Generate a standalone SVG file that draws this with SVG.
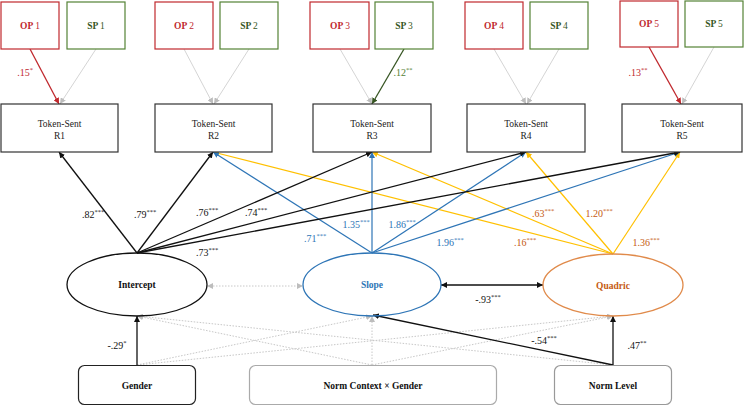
<svg xmlns="http://www.w3.org/2000/svg" width="745" height="406" viewBox="0 0 745 406" font-family="'Liberation Serif', 'DejaVu Serif', serif">
<style>
text{font-family:'Liberation Serif','DejaVu Serif',serif;text-anchor:middle}
.lab{font-size:9.5px;font-weight:bold}
.tok{font-size:9.5px;fill:#222}
.num{font-size:10px}
.sup{font-size:6.5px}
.op{fill:#fff;stroke:#c0282d;stroke-width:1.2}
.sp{fill:#fff;stroke:#548235;stroke-width:1.2}
.ts{fill:#fff;stroke:#333;stroke-width:1.2}
.k{stroke:#111;stroke-width:1.3;fill:none}
.b{stroke:#2e75b6;stroke-width:1.2;fill:none}
.y{stroke:#ffc000;stroke-width:1.2;fill:none}
.g{stroke:#cfcfcf;stroke-width:0.9;fill:none}
.gd{stroke:#c8c8c8;stroke-width:1;stroke-dasharray:1.5 1.5;fill:none}
.r{stroke:#c0282d;stroke-width:1.3;fill:none}
.gr{stroke:#375623;stroke-width:1.3;fill:none}
</style>
<defs>
<marker id="ak" markerWidth="6" markerHeight="6" refX="6" refY="3" orient="auto-start-reverse" markerUnits="userSpaceOnUse"><path d="M0,0L6,3L0,6z" fill="#111"/></marker>
<marker id="ab" markerWidth="6" markerHeight="6" refX="6" refY="3" orient="auto" markerUnits="userSpaceOnUse"><path d="M0,0L6,3L0,6z" fill="#2e75b6"/></marker>
<marker id="ay" markerWidth="6" markerHeight="6" refX="6" refY="3" orient="auto" markerUnits="userSpaceOnUse"><path d="M0,0L6,3L0,6z" fill="#ffc000"/></marker>
<marker id="ag" markerWidth="6" markerHeight="6" refX="6" refY="3" orient="auto-start-reverse" markerUnits="userSpaceOnUse"><path d="M0,0L6,3L0,6z" fill="#bdbdbd"/></marker>
<marker id="ar" markerWidth="6" markerHeight="6" refX="6" refY="3" orient="auto" markerUnits="userSpaceOnUse"><path d="M0,0L6,3L0,6z" fill="#c0282d"/></marker>
<marker id="agr" markerWidth="6" markerHeight="6" refX="6" refY="3" orient="auto" markerUnits="userSpaceOnUse"><path d="M0,0L6,3L0,6z" fill="#375623"/></marker>
</defs>
<rect width="745" height="406" fill="#fff"/>

<g id="connectors">
<line class="r" x1="30" y1="49" x2="59" y2="104" marker-end="url(#ar)"/>
<line class="g" x1="96" y1="49" x2="60" y2="104" marker-end="url(#ag)"/>
<line class="g" x1="184" y1="49" x2="213" y2="104" marker-end="url(#ag)"/>
<line class="g" x1="249" y1="49" x2="214" y2="104" marker-end="url(#ag)"/>
<line class="g" x1="340" y1="49" x2="372" y2="104" marker-end="url(#ag)"/>
<line class="gr" x1="404" y1="49" x2="372" y2="104" marker-end="url(#agr)"/>
<line class="g" x1="494" y1="49" x2="526" y2="104" marker-end="url(#ag)"/>
<line class="g" x1="559" y1="49" x2="527" y2="104" marker-end="url(#ag)"/>
<line class="r" x1="649" y1="47" x2="681" y2="104" marker-end="url(#ar)"/>
<line class="g" x1="714" y1="47" x2="682" y2="104" marker-end="url(#ag)"/>

<line class="y" x1="613" y1="254" x2="213" y2="152" marker-end="url(#ay)"/>
<line class="y" x1="613" y1="254" x2="372" y2="152" marker-end="url(#ay)"/>
<line class="y" x1="613" y1="254" x2="526" y2="152" marker-end="url(#ay)"/>
<line class="y" x1="613" y1="254" x2="680" y2="152" marker-end="url(#ay)"/>

<line class="b" x1="372" y1="253" x2="213" y2="152" marker-end="url(#ab)"/>
<line class="b" x1="372" y1="253" x2="372" y2="152" marker-end="url(#ab)"/>
<line class="b" x1="372" y1="253" x2="526" y2="152" marker-end="url(#ab)"/>
<line class="b" x1="372" y1="253" x2="680" y2="152" marker-end="url(#ab)"/>

<line class="k" x1="137" y1="253" x2="59" y2="152" marker-end="url(#ak)"/>
<line class="k" x1="137" y1="253" x2="213" y2="152" marker-end="url(#ak)"/>
<line class="k" x1="137" y1="253" x2="372" y2="152" marker-end="url(#ak)"/>
<line class="k" x1="137" y1="253" x2="526" y2="152" marker-end="url(#ak)"/>
<line class="k" x1="137" y1="253" x2="680" y2="152" marker-end="url(#ak)"/>

<line class="gd" x1="207" y1="286" x2="303" y2="286" marker-start="url(#ag)" marker-end="url(#ag)"/>
<line class="k" x1="441" y1="285" x2="543" y2="285" marker-start="url(#ak)" marker-end="url(#ak)"/>

<line class="gd" x1="137" y1="365" x2="372" y2="316" marker-end="url(#ag)"/>
<line class="gd" x1="137" y1="365" x2="613" y2="316" marker-end="url(#ag)"/>
<line class="gd" x1="372" y1="365" x2="137" y2="316" marker-end="url(#ag)"/>
<line class="gd" x1="372" y1="365" x2="372" y2="316" marker-end="url(#ag)"/>
<line class="gd" x1="372" y1="365" x2="613" y2="316" marker-end="url(#ag)"/>
<line class="gd" x1="613" y1="365" x2="137" y2="316" marker-end="url(#ag)"/>
<line class="k" x1="137" y1="365" x2="137" y2="316" marker-end="url(#ak)"/>
<line class="k" x1="613" y1="365" x2="613" y2="316" marker-end="url(#ak)"/>
<line class="k" x1="613" y1="365" x2="373" y2="315" marker-end="url(#ak)"/>
</g>

<g id="labels">
<text class="num" x="25" y="76" fill="#c0282d">.15<tspan class="sup" dy="-4">*</tspan></text>
<text class="num" x="403" y="76" fill="#548235">.12<tspan class="sup" dy="-4">**</tspan></text>
<text class="num" x="638" y="76" fill="#c0282d">.13<tspan class="sup" dy="-4">**</tspan></text>

<text class="num" x="93" y="218" fill="#111">.82<tspan class="sup" dy="-4">***</tspan></text>
<text class="num" x="145" y="218" fill="#111">.79<tspan class="sup" dy="-4">***</tspan></text>
<text class="num" x="207" y="216" fill="#111">.76<tspan class="sup" dy="-4">***</tspan></text>
<text class="num" x="256" y="216" fill="#111">.74<tspan class="sup" dy="-4">***</tspan></text>
<text class="num" x="207" y="256" fill="#111">.73<tspan class="sup" dy="-4">***</tspan></text>

<text class="num" x="356" y="228" fill="#2e75b6">1.35<tspan class="sup" dy="-4">***</tspan></text>
<text class="num" x="402" y="228" fill="#2e75b6">1.86<tspan class="sup" dy="-4">***</tspan></text>
<text class="num" x="315" y="242" fill="#2e75b6">.71<tspan class="sup" dy="-4">***</tspan></text>
<text class="num" x="450" y="246" fill="#2e75b6">1.96<tspan class="sup" dy="-4">***</tspan></text>

<text class="num" x="543" y="217" fill="#c55a11">.63<tspan class="sup" dy="-4">***</tspan></text>
<text class="num" x="599" y="217" fill="#c55a11">1.20<tspan class="sup" dy="-4">***</tspan></text>
<text class="num" x="525" y="246" fill="#c55a11">.16<tspan class="sup" dy="-4">***</tspan></text>
<text class="num" x="646" y="246" fill="#c55a11">1.36<tspan class="sup" dy="-4">***</tspan></text>

<text class="num" x="488" y="303" fill="#111">-.93<tspan class="sup" dy="-4">***</tspan></text>
<text class="num" x="117" y="349" fill="#111">-.29<tspan class="sup" dy="-4">*</tspan></text>
<text class="num" x="544" y="344" fill="#111">-.54<tspan class="sup" dy="-4">***</tspan></text>
<text class="num" x="637" y="349" fill="#111">.47<tspan class="sup" dy="-4">**</tspan></text>
</g>

<g id="op1"><rect class="op" x="1" y="2" width="58" height="47"/><text class="lab" x="30" y="29" fill="#c0282d">OP <tspan font-weight="normal">1</tspan></text></g>
<g id="sp1"><rect class="sp" x="67" y="2" width="58" height="47"/><text class="lab" x="96" y="29" fill="#375623">SP <tspan font-weight="normal">1</tspan></text></g>
<g id="op2"><rect class="op" x="155" y="2" width="58" height="47"/><text class="lab" x="184" y="29" fill="#c0282d">OP <tspan font-weight="normal">2</tspan></text></g>
<g id="sp2"><rect class="sp" x="220" y="2" width="58" height="47"/><text class="lab" x="249" y="29" fill="#375623">SP <tspan font-weight="normal">2</tspan></text></g>
<g id="op3"><rect class="op" x="310" y="2" width="59" height="47"/><text class="lab" x="340" y="29" fill="#c0282d">OP <tspan font-weight="normal">3</tspan></text></g>
<g id="sp3"><rect class="sp" x="375" y="2" width="58" height="47"/><text class="lab" x="404" y="29" fill="#375623">SP <tspan font-weight="normal">3</tspan></text></g>
<g id="op4"><rect class="op" x="465" y="2" width="58" height="47"/><text class="lab" x="494" y="29" fill="#c0282d">OP <tspan font-weight="normal">4</tspan></text></g>
<g id="sp4"><rect class="sp" x="530" y="2" width="58" height="47"/><text class="lab" x="559" y="29" fill="#375623">SP <tspan font-weight="normal">4</tspan></text></g>
<g id="op5"><rect class="op" x="620" y="1" width="58" height="46"/><text class="lab" x="649" y="27" fill="#c0282d">OP <tspan font-weight="normal">5</tspan></text></g>
<g id="sp5"><rect class="sp" x="685" y="1" width="58" height="46"/><text class="lab" x="714" y="27" fill="#375623">SP <tspan font-weight="normal">5</tspan></text></g>

<g id="r1"><rect class="ts" x="1" y="104" width="117" height="48"/><text class="tok" x="59.5" y="127">Token-Sent</text><text class="tok" x="59.5" y="139">R1</text></g>
<g id="r2"><rect class="ts" x="155" y="104" width="117" height="48"/><text class="tok" x="213.5" y="127">Token-Sent</text><text class="tok" x="213.5" y="139">R2</text></g>
<g id="r3"><rect class="ts" x="313" y="104" width="118" height="48"/><text class="tok" x="372" y="127">Token-Sent</text><text class="tok" x="372" y="139">R3</text></g>
<g id="r4"><rect class="ts" x="467" y="104" width="118" height="48"/><text class="tok" x="526" y="127">Token-Sent</text><text class="tok" x="526" y="139">R4</text></g>
<g id="r5"><rect class="ts" x="622" y="104" width="120" height="48"/><text class="tok" x="682" y="127">Token-Sent</text><text class="tok" x="682" y="139">R5</text></g>

<g id="intercept"><ellipse cx="137" cy="284.5" rx="70" ry="31.5" fill="none" stroke="#111" stroke-width="1.3"/><text class="lab" x="137" y="288" fill="#111">Intercept</text></g>
<g id="slope"><ellipse cx="372" cy="284.5" rx="69" ry="31.5" fill="none" stroke="#2e75b6" stroke-width="1.3"/><text class="lab" x="372" y="288" fill="#2e75b6">Slope</text></g>
<g id="quadric"><ellipse cx="613" cy="285" rx="70" ry="31" fill="none" stroke="#e08a4a" stroke-width="1.3"/><text class="lab" x="613" y="289" fill="#c55a11">Quadric</text></g>

<g id="gender"><rect x="78.5" y="365.5" width="117" height="39" rx="6" fill="#fff" stroke="#222" stroke-width="1.2"/><text class="lab" x="137" y="389" fill="#111">Gender</text></g>
<g id="normctx"><rect x="249.5" y="365.5" width="247" height="39" rx="6" fill="#fff" stroke="#aaa" stroke-width="1.2"/><text class="lab" x="373" y="389" fill="#111">Norm Context × Gender</text></g>
<g id="normlevel"><rect x="554.5" y="365.5" width="117" height="39" rx="6" fill="#fff" stroke="#999" stroke-width="1.2"/><text class="lab" x="613" y="389" fill="#111">Norm Level</text></g>
</svg>
